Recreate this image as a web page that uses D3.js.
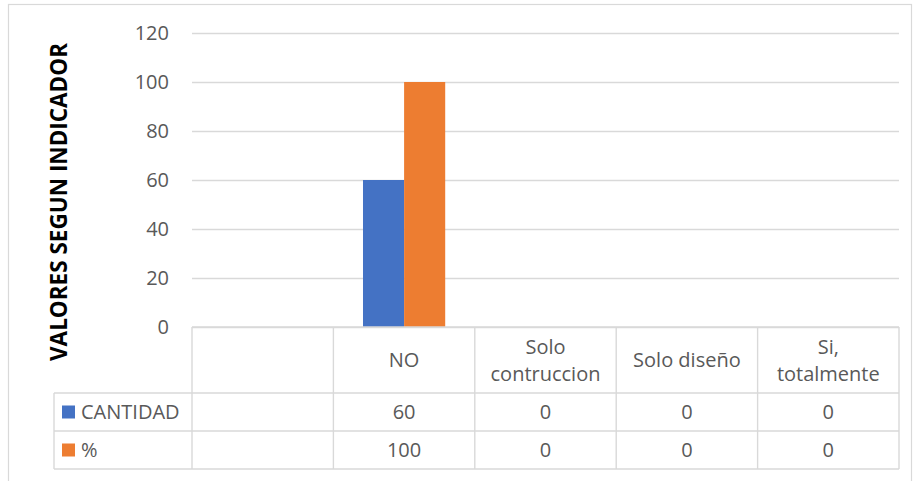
<!DOCTYPE html>
<html>
<head>
<meta charset="utf-8">
<script src="https://cdn.jsdelivr.net/npm/d3@7"></script>
<style>
  html, body { margin: 0; padding: 0; background: #fff; }
  svg { display: block; }
</style>
</head>
<body>
<svg id="chart" width="917" height="481"></svg>
<script>
// Survey answers and their counts / percentages
const categories = ["", "NO", "Solo contruccion", "Solo diseño", "Si, totalmente"];
const seriesNames = ["CANTIDAD", "%"];
const cantidad = [null, 60, 0, 0, 0];
const porcentaje = [null, 100, 0, 0, 0];
const yTicks = [0, 20, 40, 60, 80, 100, 120];
const axisTitle = "VALORES SEGUN INDICADOR";

const colors = ["#4472c4", "#ed7d31"];
const gridColor = "#d9d9d9";
const textColor = "#595959";
const font = "'Open Sans', sans-serif";
const fontSize = "20px";

const svg = d3.select("#chart");

// Outer chart frame
svg.append("rect")
  .attr("x", 8.5).attr("y", 4.5)
  .attr("width", 903).attr("height", 490)
  .attr("fill", "#fff").attr("stroke", gridColor).attr("stroke-width", 1.2);

const plot = { left: 192, right: 899, top: 33, bottom: 327 };
const rowH = [66, 38, 38];        // header row, then one row per series
const legendLeft = 54;

const x = d3.scaleBand().domain(categories.map((c, i) => i))
  .range([plot.left, plot.right]).paddingInner(0).paddingOuter(0);
const y = d3.scaleLinear().domain([0, 120]).range([plot.bottom, plot.top]);

const seriesData = [cantidad, porcentaje];
const x1 = d3.scaleBand().domain(d3.range(seriesData.length))
  .range([0, x.bandwidth()]).paddingInner(0).paddingOuter(0.72);

// Gridlines and y-axis labels
const yAxis = d3.axisLeft(y).tickValues(yTicks)
  .tickSize(-(plot.right - plot.left)).tickPadding(23);
const gy = svg.append("g").attr("transform", `translate(${plot.left},0)`).call(yAxis);
gy.select(".domain").remove();
gy.selectAll(".tick line").attr("stroke", gridColor).attr("stroke-width", 1.4);
gy.selectAll(".tick text")
  .attr("fill", textColor).style("font-family", font).style("font-size", fontSize);

// Bars
const groups = svg.append("g").selectAll("g")
  .data(categories.map((c, i) => i))
  .join("g").attr("transform", i => `translate(${x(i)},0)`);
groups.selectAll("rect")
  .data(i => seriesData.map((s, k) => ({ k, v: s[i] })).filter(d => d.v != null && d.v > 0))
  .join("rect")
  .attr("x", d => x1(d.k))
  .attr("width", x1.bandwidth())
  .attr("y", d => y(d.v))
  .attr("height", d => y(0) - y(d.v))
  .attr("fill", d => colors[d.k]);

// Data table beneath the plot
const tableTop = plot.bottom;
const rowY = [tableTop, tableTop + rowH[0], tableTop + rowH[0] + rowH[1], tableTop + rowH[0] + rowH[1] + rowH[2]];
const table = svg.append("g");
const line = (x1_, y1_, x2_, y2_) => table.append("line")
  .attr("x1", x1_).attr("y1", y1_).attr("x2", x2_).attr("y2", y2_)
  .attr("stroke", gridColor).attr("stroke-width", 1.4);

line(plot.left, rowY[0], plot.right, rowY[0]);
for (let r = 1; r < rowY.length; r++) line(legendLeft, rowY[r], plot.right, rowY[r]);
line(legendLeft, rowY[1], legendLeft, rowY[3]);
categories.forEach((c, i) => line(x(i), rowY[0], x(i), rowY[3]));
line(plot.right, rowY[0], plot.right, rowY[3]);

// Category headers, wrapped to fit the column
const headerText = table.append("g")
  .style("font-family", font).style("font-size", fontSize).attr("fill", textColor)
  .attr("text-anchor", "middle");
const measure = svg.append("text").style("font-family", font).style("font-size", fontSize);
const maxW = 120;
categories.forEach((c, i) => {
  if (!c) return;
  const words = c.split(" ");
  const lines = [];
  let cur = "";
  words.forEach(w => {
    const test = cur ? cur + " " + w : w;
    measure.text(test);
    if (cur && measure.node().getComputedTextLength() > maxW) { lines.push(cur); cur = w; }
    else cur = test;
  });
  lines.push(cur);
  const lh = 27;
  const cy = (rowY[0] + rowY[1]) / 2;
  const t = headerText.append("text").attr("x", x(i) + x.bandwidth() / 2);
  lines.forEach((l, j) => {
    t.append("tspan").attr("x", x(i) + x.bandwidth() / 2)
      .attr("y", cy + (j - (lines.length - 1) / 2) * lh)
      .attr("dy", "0.35em").text(l);
  });
});
measure.remove();

// Series rows: legend key, name and values
seriesData.forEach((s, k) => {
  const cy = (rowY[k + 1] + rowY[k + 2]) / 2;
  table.append("rect")
    .attr("x", 62).attr("y", cy - 6.5).attr("width", 13).attr("height", 13)
    .attr("fill", colors[k]);
  table.append("text")
    .attr("x", 81).attr("y", cy).attr("dy", "0.35em")
    .style("font-family", font).style("font-size", fontSize).attr("fill", textColor)
    .text(seriesNames[k]);
  s.forEach((v, i) => {
    if (v == null) return;
    table.append("text")
      .attr("x", x(i) + x.bandwidth() / 2).attr("y", cy).attr("dy", "0.35em")
      .attr("text-anchor", "middle")
      .style("font-family", font).style("font-size", fontSize).attr("fill", textColor)
      .text(v);
  });
});

// Y-axis title
svg.append("text")
  .attr("transform", `translate(59,202) rotate(-90)`)
  .attr("text-anchor", "middle").attr("dy", "0.35em")
  .style("font-family", font).style("font-size", "22.5px").style("font-weight", "bold")
  .attr("fill", "#000")
  .text(axisTitle);
</script>
</body>
</html>
